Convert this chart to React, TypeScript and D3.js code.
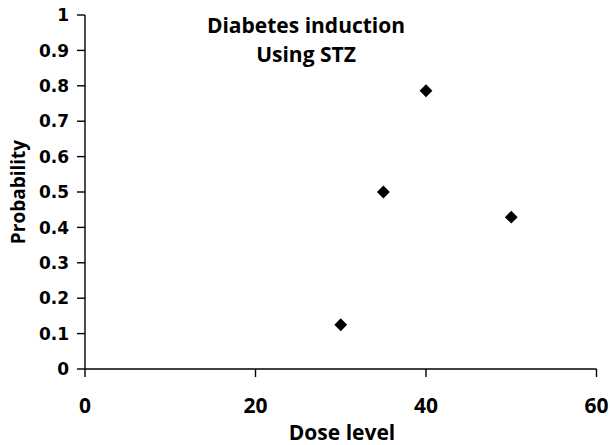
import React from "react";
import * as d3 from "d3";

const doses = [30, 35, 40, 50];
const probabilities = [0.125, 0.5, 0.786, 0.429];
const xTicks = [0, 20, 40, 60];
const yTicks = [0, 0.1, 0.2, 0.3, 0.4, 0.5, 0.6, 0.7, 0.8, 0.9, 1];
const titleLines = ["Diabetes induction", "Using STZ"];
const xTitle = "Dose level";
const yTitle = "Probability";

const W = 610;
const H = 445;
const FONT = "'Open Sans', 'Noto Sans', sans-serif";
const TICK_FONT = "'DejaVu Sans', 'Open Sans', sans-serif";

export default function App() {
  const x = d3.scaleLinear().domain([0, 60]).range([85, 596.5]);
  const y = d3.scaleLinear().domain([0, 1]).range([369, 15]);
  const diamond = d3.symbol().type(d3.symbolSquare).size(82)();
  const tick = 8;

  return (
    <svg
      width={W}
      height={H}
      viewBox={`0 0 ${W} ${H}`}
      style={{ position: "absolute", left: 0, top: 0, background: "#fff" }}
    >
      <rect x={0} y={0} width={W} height={H} fill="#fff" />
      {/* y axis */}
      <line x1={x(0)} x2={x(0)} y1={y(1)} y2={y(0)} stroke="#000" strokeWidth={1.4} />
      {yTicks.map((t) => (
        <g key={"y" + t}>
          <line x1={x(0) - tick} x2={x(0)} y1={y(t)} y2={y(t)} stroke="#000" strokeWidth={1.4} />
          <text
            x={69}
            y={y(t)}
            dy="0.36em"
            textAnchor="end"
            fontFamily={TICK_FONT}
            fontWeight={700}
            fontSize={17}
            fill="#000"
          >
            {d3.format("~g")(t)}
          </text>
        </g>
      ))}
      {/* x axis */}
      <line x1={x(0)} x2={x(60)} y1={y(0)} y2={y(0)} stroke="#000" strokeWidth={1.4} />
      {xTicks.map((t) => (
        <g key={"x" + t}>
          <line x1={x(t)} x2={x(t)} y1={y(0)} y2={y(0) + tick} stroke="#000" strokeWidth={1.4} />
          <text
            x={x(t)}
            y={413}
            textAnchor="middle"
            fontFamily={FONT}
            fontWeight={700}
            fontSize={21}
            fill="#000"
          >
            {t}
          </text>
        </g>
      ))}
      {/* axis titles */}
      <text
        x={342}
        y={440}
        textAnchor="middle"
        fontFamily={FONT}
        fontWeight={700}
        fontSize={21}
        fill="#000"
      >
        {xTitle}
      </text>
      <text
        transform={`translate(25, 192) rotate(-90)`}
        textAnchor="middle"
        fontFamily={FONT}
        fontWeight={700}
        fontSize={19}
        fill="#000"
      >
        {yTitle}
      </text>
      {/* chart title */}
      {titleLines.map((line, i) => (
        <text
          key={line}
          x={306}
          y={33 + i * 29}
          textAnchor="middle"
          fontFamily={FONT}
          fontWeight={700}
          fontSize={21}
          fill="#000"
        >
          {line}
        </text>
      ))}
      {/* points */}
      {doses.map((d, i) => (
        <path
          key={"p" + d}
          d={diamond ?? ""}
          transform={`translate(${x(d)}, ${y(probabilities[i])}) rotate(45)`}
          fill="#000"
        />
      ))}
    </svg>
  );
}
